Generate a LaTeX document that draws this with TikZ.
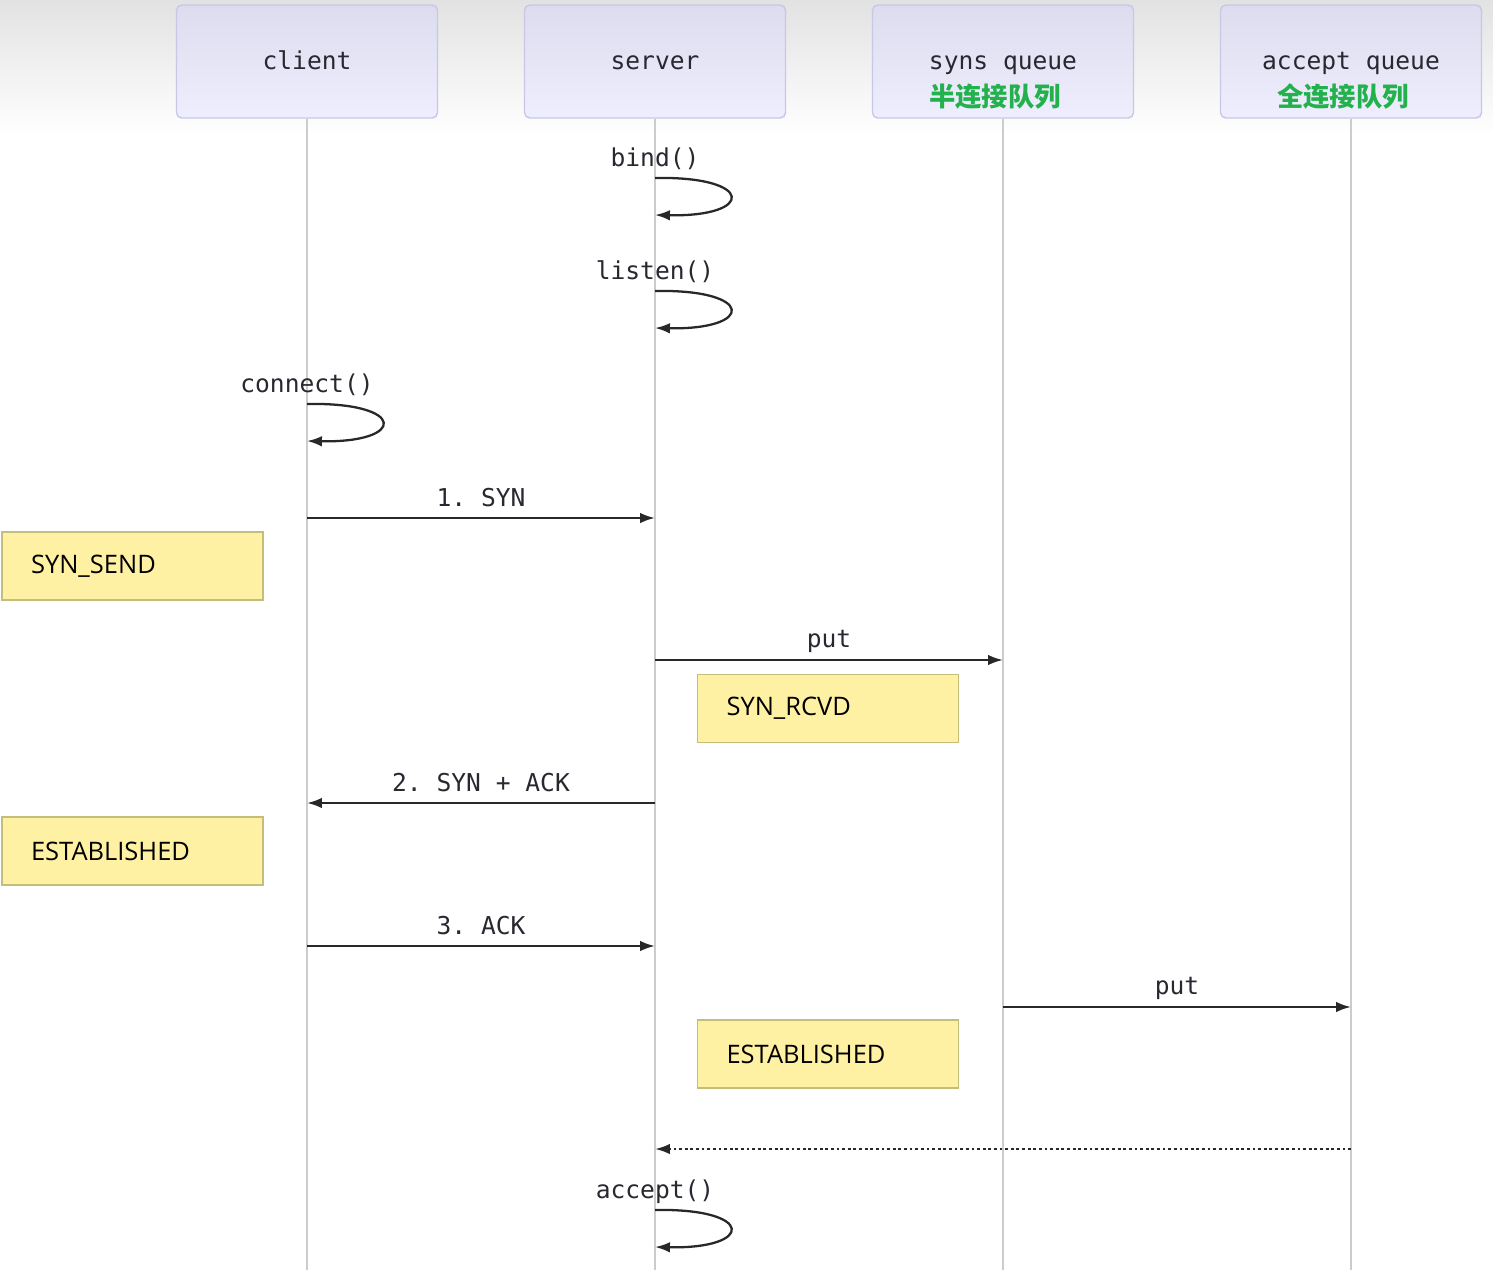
\documentclass[tikz,border=0pt]{standalone}
\usepackage{fontspec}
\setmainfont{Open Sans}
\setmonofont{DejaVu Sans Mono}
\newfontfamily\cjk{Noto Sans CJK SC}
\usetikzlibrary{arrows.meta, positioning}
\definecolor{bgTop}{RGB}{226, 226, 226}
\definecolor{headTop}{RGB}{220, 220, 238}
\definecolor{headBot}{RGB}{238, 238, 254}
\definecolor{headLine}{RGB}{200, 200, 230}
\definecolor{lifeLine}{RGB}{204, 204, 204}
\definecolor{arrowCol}{RGB}{40, 40, 40}
\definecolor{txt}{RGB}{40, 40, 48}
\definecolor{cnGreen}{RGB}{34, 177, 76}
\definecolor{stateFill}{RGB}{255, 241, 164}
\definecolor{stateLine}{RGB}{196, 190, 122}

\begin{document}
\begin{tikzpicture}[x=0.02cm, y=-0.02cm,
        head/.style={rectangle, rounded corners=3pt, draw=headLine, line width=0.8pt,
                     top color=headTop, bottom color=headBot, minimum width=5.22cm, minimum height=2.26cm, inner sep=0pt},
        headtxt/.style={font=\fontsize{14}{16}\selectfont\ttfamily, text=txt, inner sep=0pt, anchor=base},
        cntxt/.style={font=\fontsize{15}{17}\selectfont\cjk\bfseries, text=cnGreen, inner sep=0pt, anchor=base},
        statebox/.style={rectangle, draw=stateLine, fill=stateFill, line width=1pt, text=black,
                         text width=4.06cm, inner xsep=0.58cm, inner ysep=0pt, minimum height=1.36cm,
                         align=left, font=\fontsize{14.5}{16}\selectfont},
        life/.style={draw=lifeLine, line width=0.8pt},
        msg/.style={draw=arrowCol, line width=1.3pt, -{Latex[length=8.5pt, width=6pt]}},
        lbl/.style={font=\fontsize{14}{16}\selectfont\ttfamily, text=txt, inner sep=0pt, text depth=3pt}
    ]
        \useasboundingbox (0,0) rectangle (1493,1270);
        \fill[top color=bgTop, bottom color=white, draw=none] (0,0) rectangle (1493,135);

        \node[head] (client) at (307,61.5)  {};
        \node[head] (server) at (655,61.5)  {};
        \node[head] (syns)   at (1003,61.5) {};
        \node[head] (accept) at (1351,61.5) {};

        \node[headtxt] (clienttxt) at (307,70)  {client};
        \node[headtxt] (servertxt) at (655,70)  {server};
        \node[headtxt] (synstxt)   at (1003,70) {syns queue};
        \node[headtxt] (accepttxt) at (1351,70) {accept queue};
        \node[cntxt] (synscn)   at (995,107)  {半连接队列};
        \node[cntxt] (acceptcn) at (1343,107) {全连接队列};

        \coordinate (bottom) at (0,1270);
        \draw[life] (client.south) -- (client |- bottom);
        \draw[life] (server.south) -- (server |- bottom);
        \draw[life] (syns.south)   -- (syns |- bottom);
        \draw[life] (accept.south) -- (accept |- bottom);

        \coordinate (bindA) at (0,178);    \coordinate (bindB) at (0,215);
        \coordinate (listenA) at (0,291);  \coordinate (listenB) at (0,328);
        \coordinate (connA) at (0,404);    \coordinate (connB) at (0,441);
        \coordinate (synRow) at (0,518);
        \coordinate (putRow) at (0,660);
        \coordinate (synackRow) at (0,803);
        \coordinate (ackRow) at (0,946);
        \coordinate (put2Row) at (0,1007);
        \coordinate (doneRow) at (0,1149);
        \coordinate (accA) at (0,1210);    \coordinate (accB) at (0,1247);

        \draw[msg] (server |- bindA) node[lbl, above=3pt] {bind()}
            .. controls +(100,-2) and +(100,2) .. (server |- bindB);
        \draw[msg] (server |- listenA) node[lbl, above=3pt] {listen()}
            .. controls +(100,-2) and +(100,2) .. (server |- listenB);
        \draw[msg] (client |- connA) node[lbl, above=3pt] {connect()}
            .. controls +(100,-2) and +(100,2) .. (client |- connB);

        \draw[msg] (client |- synRow) -- (server |- synRow) node[lbl, midway, above=3pt] {1. SYN};
        \node[statebox] (synsend) at (132.5,566) {SYN\_SEND};

        \draw[msg] (server |- putRow) -- (syns |- putRow) node[lbl, midway, above=3.5pt] {put};
        \node[statebox] (synrcvd) at (828,708.5) {SYN\_RCVD};

        \draw[msg] (server |- synackRow) -- (client |- synackRow) node[lbl, midway, above=3pt] {2. SYN + ACK};
        \node[statebox] (estclient) at (132.5,851) {ESTABLISHED};

        \draw[msg] (client |- ackRow) -- (server |- ackRow) node[lbl, midway, above=3pt] {3. ACK};

        \draw[msg] (syns |- put2Row) -- (accept |- put2Row) node[lbl, midway, above=3.5pt] {put};
        \node[statebox] (estserver) at (828,1054) {ESTABLISHED};

        \draw[msg, dash pattern=on 1.6pt off 1.6pt] (accept |- doneRow) -- (server |- doneRow);

        \draw[msg] (server |- accA) node[lbl, above=3pt] {accept()}
            .. controls +(100,-2) and +(100,2) .. (server |- accB);
    \end{tikzpicture}
\end{document}
